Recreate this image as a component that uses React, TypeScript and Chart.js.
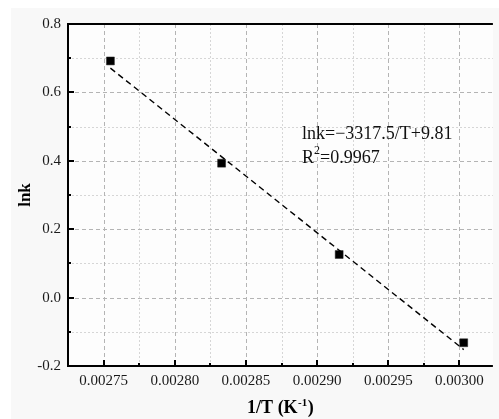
import React, { useEffect, useRef } from "react";
import { Chart, registerables } from "chart.js";

Chart.register(...registerables);

// ---- data ----
const invT = [0.0027548, 0.0028329, 0.0029155, 0.003003];
const lnk = [0.692, 0.393, 0.126, -0.132];
const fitX = [0.0027548, 0.003003];
const fitY = [0.671, -0.152];

const xTickValues = [0.00275, 0.0028, 0.00285, 0.0029, 0.00295, 0.003];
const xMinorValues = [0.002775, 0.002825, 0.002875, 0.002925, 0.002975];
const yTickValues = [-0.2, 0, 0.2, 0.4, 0.6, 0.8];
const yMinorValues = [-0.1, 0.1, 0.3, 0.5, 0.7];
const xRange = [0.002725, 0.0030235];
const yRange = [-0.2, 0.8];

const equationText = "lnk=\u22123317.5/T+9.81";
const r2Base = "R";
const r2Sup = "2";
const r2Rest = "=0.9967";
const yTitle = "lnk";
const xTitleMain = "1/T (K";
const xTitleSup = "-1";
const xTitleEnd = ")";

const SERIF = '"Liberation Serif", "Times New Roman", serif';

const framePlugin = {
  id: "frame",
  beforeDraw(chart: any) {
    const { ctx, chartArea: a, width, height } = chart;
    const xs = chart.scales.x;
    const ys = chart.scales.y;
    ctx.save();
    ctx.fillStyle = "#f8f8f8";
    ctx.fillRect(0, 0, width, height);
    ctx.fillStyle = "#fdfdfd";
    ctx.fillRect(a.left, a.top, a.right - a.left, a.bottom - a.top);

    ctx.lineWidth = 1;
    // minor grid
    ctx.strokeStyle = "#d6d6d6";
    ctx.setLineDash([2, 2]);
    for (const v of xMinorValues) {
      const px = Math.round(xs.getPixelForValue(v)) + 0.5;
      ctx.beginPath();
      ctx.moveTo(px, a.top);
      ctx.lineTo(px, a.bottom);
      ctx.stroke();
    }
    for (const v of yMinorValues) {
      const py = Math.round(ys.getPixelForValue(v)) + 0.5;
      ctx.beginPath();
      ctx.moveTo(a.left, py);
      ctx.lineTo(a.right, py);
      ctx.stroke();
    }
    // major grid
    ctx.strokeStyle = "#b4b4b4";
    ctx.setLineDash([4, 3]);
    for (const v of xTickValues) {
      const px = Math.round(xs.getPixelForValue(v)) + 0.5;
      ctx.beginPath();
      ctx.moveTo(px, a.top);
      ctx.lineTo(px, a.bottom);
      ctx.stroke();
    }
    for (const v of yTickValues) {
      const py = Math.round(ys.getPixelForValue(v)) + 0.5;
      ctx.beginPath();
      ctx.moveTo(a.left, py);
      ctx.lineTo(a.right, py);
      ctx.stroke();
    }
    ctx.restore();
  },
  afterDraw(chart: any) {
    const { ctx, chartArea: a } = chart;
    const xs = chart.scales.x;
    const ys = chart.scales.y;
    ctx.save();
    ctx.setLineDash([]);
    ctx.strokeStyle = "#000";
    ctx.lineWidth = 2;
    ctx.beginPath();
    ctx.moveTo(a.left, a.top - 1);
    ctx.lineTo(a.left, a.bottom + 1);
    ctx.moveTo(a.left - 1, a.bottom);
    ctx.lineTo(a.right, a.bottom);
    ctx.moveTo(a.left - 1, a.top);
    ctx.lineTo(a.right, a.top);
    ctx.stroke();

    // ticks (inward)
    const tick = (vals: number[], len: number) => {
      for (const v of vals) {
        const px = Math.round(xs.getPixelForValue(v));
        ctx.beginPath();
        ctx.moveTo(px, a.bottom);
        ctx.lineTo(px, a.bottom - len);
        ctx.stroke();
      }
    };
    const ytick = (vals: number[], len: number) => {
      for (const v of vals) {
        const py = Math.round(ys.getPixelForValue(v));
        ctx.beginPath();
        ctx.moveTo(a.left, py);
        ctx.lineTo(a.left + len, py);
        ctx.stroke();
      }
    };
    tick(xTickValues, 6);
    tick(xMinorValues, 3);
    ytick(yTickValues, 6);
    ytick(yMinorValues, 3);

    // annotation
    ctx.fillStyle = "#111";
    ctx.textBaseline = "alphabetic";
    ctx.textAlign = "left";
    const tx = 291;
    ctx.font = `18px ${SERIF}`;
    ctx.fillText(equationText, tx, 131);
    ctx.fillText(r2Base, tx, 155);
    let cx = tx + ctx.measureText(r2Base).width;
    ctx.font = `12px ${SERIF}`;
    ctx.fillText(r2Sup, cx, 146);
    cx += ctx.measureText(r2Sup).width;
    ctx.font = `18px ${SERIF}`;
    ctx.fillText(r2Rest, cx, 155);

    // x title with superscript
    ctx.fillStyle = "#000";
    const fMain = `bold 18px ${SERIF}`;
    const fSup = `bold 11px ${SERIF}`;
    ctx.font = fMain;
    const w1 = ctx.measureText(xTitleMain).width;
    const w3 = ctx.measureText(xTitleEnd).width;
    ctx.font = fSup;
    const w2 = ctx.measureText(xTitleSup).width;
    const total = w1 + w2 + w3 + 1;
    let sx = (a.left + a.right) / 2 - total / 2;
    const by = 405;
    ctx.font = fMain;
    ctx.fillText(xTitleMain, sx, by);
    sx += w1 + 0.5;
    ctx.font = fSup;
    ctx.fillText(xTitleSup, sx, by - 7);
    sx += w2 + 0.5;
    ctx.font = fMain;
    ctx.fillText(xTitleEnd, sx, by);
    ctx.restore();
  },
};

export default function App() {
  const ref = useRef<HTMLCanvasElement | null>(null);

  useEffect(() => {
    if (!ref.current) return;
    const chart = new Chart(ref.current, {
      type: "scatter",
      data: {
        datasets: [
          {
            label: "fit",
            type: "line",
            data: fitX.map((x, i) => ({ x, y: fitY[i] })),
            borderColor: "#000",
            borderWidth: 1.4,
            borderDash: [6, 4],
            pointRadius: 0,
            showLine: true,
            fill: false,
          },
          {
            label: "lnk",
            data: invT.map((x, i) => ({ x, y: lnk[i] })),
            pointStyle: "rect",
            pointRadius: 5.6,
            backgroundColor: "#000",
            borderColor: "#222",
            borderWidth: 0.5,
            showLine: false,
          },
        ],
      } as any,
      options: {
        responsive: false,
        animation: false,
        devicePixelRatio: 1,
        layout: { padding: { top: 10, left: 0, right: 0, bottom: 0 } },
        plugins: { legend: { display: false }, tooltip: { enabled: false } },
        scales: {
          x: {
            type: "linear",
            position: "bottom",
            min: xRange[0],
            max: xRange[1],
            afterBuildTicks: (s: any) => {
              s.ticks = xTickValues.map((value) => ({ value }));
            },
            afterFit: (s: any) => {
              s.height = 53;
            },
            ticks: {
              callback: (v: any) => Number(v).toFixed(5),
              font: { family: SERIF, size: 15 },
              color: "#1a1a1a",
              padding: 6,
              maxRotation: 0,
              autoSkip: false,
            },
            grid: { display: false, drawTicks: false },
            border: { display: false },
          },
          y: {
            type: "linear",
            min: yRange[0],
            max: yRange[1],
            afterBuildTicks: (s: any) => {
              s.ticks = yTickValues.map((value) => ({ value }));
            },
            afterFit: (s: any) => {
              s.width = 57;
            },
            ticks: {
              callback: (v: any) => Number(v).toFixed(1),
              font: { family: SERIF, size: 15 },
              color: "#1a1a1a",
              padding: 7,
              autoSkip: false,
            },
            grid: { display: false, drawTicks: false },
            border: { display: false },
            title: {
              display: true,
              text: yTitle,
              font: { family: SERIF, size: 17, weight: "bold" },
              color: "#000",
              padding: { top: 4, bottom: 0 },
            },
          },
        },
      } as any,
      plugins: [framePlugin],
    });
    return () => chart.destroy();
  }, []);

  return (
    <div style={{ position: "fixed", left: 11, top: 8, width: 488, height: 411, overflow: "hidden" }}>
      <canvas ref={ref} width={488} height={411} style={{ display: "block", width: 488, height: 411 }} />
    </div>
  );
}
